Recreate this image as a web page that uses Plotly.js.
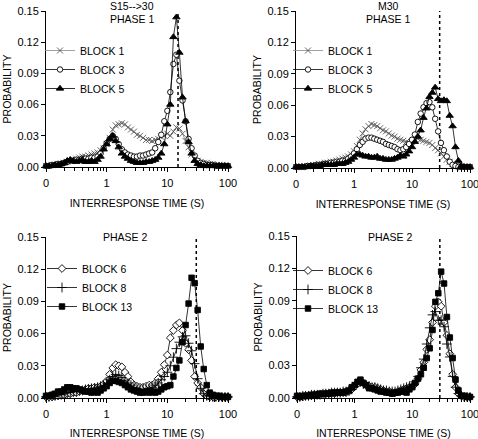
<!DOCTYPE html>
<html><head><meta charset="utf-8">
<script src="https://cdn.plot.ly/plotly-3.0.1.min.js"></script>
<style>html,body{margin:0;padding:0;background:#fff;}#chart{width:478px;height:439px;}</style>
</head><body><div id="chart"></div>
<script>
// Interresponse-time bins (s), 20 per decade from 0.1 to 100
const irtBins = [0.100,0.112,0.126,0.141,0.158,0.178,0.200,0.224,0.251,0.282,
  0.316,0.355,0.398,0.447,0.501,0.562,0.631,0.708,0.794,0.891,
  1.00,1.12,1.26,1.41,1.58,1.78,2.00,2.24,2.51,2.82,
  3.16,3.55,3.98,4.47,5.01,5.62,6.31,7.08,7.94,8.91,
  10.0,11.2,12.6,14.1,15.8,17.8,20.0,22.4,25.1,28.2,
  31.6,35.5,39.8,44.7,50.1,56.2,63.1,70.8,79.4,89.1,100];

// Panel 1: S15-->30, Phase 1
const s15_block1 = [0.001,0.001,0.002,0.002,0.003,0.003,0.004,0.005,0.006,0.007,
  0.008,0.009,0.010,0.010,0.011,0.012,0.013,0.014,0.016,0.018,
  0.022,0.028,0.036,0.040,0.041,0.042,0.041,0.038,0.036,0.034,
  0.031,0.030,0.028,0.026,0.026,0.025,0.026,0.027,0.029,0.030,
  0.032,0.030,0.034,0.038,0.037,0.032,0.025,0.019,0.012,0.008,
  0.006,0.005,0.004,0.004,0.003,0.003,0.002,0.002,0.002,0.001,0.001];
const s15_block3 = [0.001,0.001,0.002,0.002,0.003,0.003,0.004,0.005,0.006,0.006,
  0.007,0.007,0.008,0.008,0.008,0.009,0.009,0.010,0.013,0.018,
  0.023,0.027,0.030,0.027,0.022,0.017,0.014,0.012,0.011,0.010,
  0.010,0.011,0.011,0.012,0.013,0.014,0.018,0.024,0.031,0.044,
  0.054,0.072,0.099,0.108,0.083,0.064,0.044,0.027,0.018,0.011,
  0.006,0.004,0.003,0.002,0.002,0.002,0.001,0.001,0.001,0.001,0.001];
const s15_block5 = [0.001,0.001,0.001,0.002,0.002,0.003,0.004,0.006,0.007,0.006,
  0.005,0.006,0.007,0.005,0.005,0.006,0.005,0.007,0.010,0.017,
  0.022,0.027,0.030,0.025,0.019,0.013,0.010,0.008,0.006,0.005,
  0.004,0.004,0.004,0.005,0.005,0.006,0.007,0.009,0.013,0.022,
  0.041,0.060,0.125,0.144,0.110,0.067,0.044,0.024,0.013,0.006,
  0.003,0.002,0.001,0.001,0.001,0.001,0.001,0.001,0.001,0.001,0.001];

// Panel 2: M30, Phase 1
const m30_block1 = [0.001,0.001,0.001,0.002,0.002,0.002,0.003,0.003,0.004,0.004,
  0.005,0.005,0.006,0.006,0.007,0.008,0.009,0.010,0.011,0.013,
  0.016,0.021,0.027,0.033,0.037,0.040,0.042,0.041,0.040,0.038,
  0.036,0.035,0.033,0.031,0.030,0.028,0.027,0.026,0.025,0.024,
  0.025,0.027,0.028,0.027,0.026,0.025,0.024,0.022,0.019,0.017,
  0.014,0.011,0.008,0.006,0.004,0.003,0.002,0.002,0.001,0.001,0.001];
const m30_block3 = [0.001,0.001,0.001,0.001,0.002,0.002,0.002,0.003,0.003,0.003,
  0.004,0.004,0.005,0.005,0.006,0.006,0.007,0.007,0.009,0.011,
  0.014,0.018,0.022,0.025,0.028,0.029,0.029,0.028,0.027,0.026,
  0.025,0.023,0.022,0.021,0.020,0.018,0.017,0.018,0.020,0.023,
  0.027,0.032,0.044,0.052,0.058,0.062,0.063,0.058,0.047,0.035,
  0.024,0.017,0.011,0.006,0.003,0.002,0.001,0.001,0.001,0.001,0.001];
const m30_block5 = [0.001,0.001,0.001,0.001,0.001,0.002,0.002,0.002,0.002,0.003,
  0.003,0.003,0.003,0.003,0.004,0.004,0.004,0.005,0.006,0.008,
  0.010,0.013,0.013,0.012,0.011,0.011,0.010,0.010,0.011,0.009,
  0.009,0.008,0.008,0.008,0.009,0.010,0.012,0.011,0.013,0.016,
  0.020,0.025,0.030,0.036,0.048,0.057,0.068,0.072,0.077,0.066,
  0.064,0.065,0.064,0.050,0.040,0.020,0.007,0.002,0.001,0.001,0.001];

// Panel 3: S15-->30, Phase 2
const s15_block6 = [0.001,0.001,0.001,0.002,0.002,0.003,0.003,0.004,0.004,0.005,
  0.005,0.006,0.007,0.008,0.009,0.009,0.010,0.010,0.011,0.013,
  0.016,0.022,0.028,0.031,0.030,0.029,0.024,0.020,0.015,0.012,
  0.011,0.010,0.010,0.011,0.012,0.012,0.014,0.018,0.024,0.031,
  0.040,0.056,0.063,0.068,0.070,0.063,0.051,0.045,0.035,0.020,
  0.014,0.010,0.004,0.002,0.001,0.001,0.001,0.001,0.001,0.001,0.001];
const s15_block8 = [0.001,0.001,0.002,0.002,0.003,0.003,0.004,0.005,0.005,0.006,
  0.006,0.007,0.007,0.008,0.008,0.009,0.009,0.010,0.011,0.012,
  0.014,0.017,0.020,0.022,0.021,0.019,0.016,0.014,0.012,0.010,
  0.009,0.008,0.008,0.008,0.009,0.010,0.012,0.014,0.017,0.020,
  0.024,0.030,0.038,0.046,0.052,0.057,0.058,0.051,0.044,0.032,
  0.018,0.009,0.004,0.002,0.002,0.001,0.001,0.001,0.001,0.001,0.001];
const s15_block13 = [0.002,0.002,0.003,0.004,0.006,0.006,0.008,0.010,0.010,0.009,
  0.009,0.008,0.007,0.006,0.006,0.005,0.006,0.005,0.007,0.009,
  0.011,0.014,0.016,0.016,0.015,0.014,0.012,0.010,0.008,0.007,
  0.006,0.005,0.005,0.006,0.005,0.006,0.005,0.006,0.008,0.010,
  0.011,0.012,0.020,0.028,0.035,0.052,0.068,0.088,0.112,0.107,
  0.082,0.048,0.027,0.012,0.005,0.003,0.002,0.002,0.001,0.001,0.001];

// Panel 4: M30, Phase 2
const m30_block6 = [0.001,0.001,0.001,0.002,0.002,0.002,0.003,0.003,0.003,0.003,
  0.004,0.004,0.004,0.004,0.005,0.005,0.005,0.005,0.006,0.008,
  0.011,0.013,0.015,0.014,0.012,0.011,0.010,0.010,0.009,0.008,
  0.007,0.006,0.006,0.005,0.005,0.006,0.007,0.008,0.009,0.010,
  0.011,0.013,0.018,0.026,0.033,0.045,0.054,0.070,0.085,0.089,
  0.085,0.070,0.058,0.041,0.022,0.010,0.004,0.002,0.001,0.001,0.001];
const m30_block8 = [0.001,0.001,0.002,0.002,0.002,0.003,0.003,0.003,0.003,0.004,
  0.004,0.004,0.005,0.005,0.005,0.005,0.006,0.006,0.007,0.008,
  0.011,0.014,0.015,0.013,0.012,0.011,0.010,0.010,0.009,0.008,
  0.007,0.007,0.006,0.006,0.006,0.007,0.008,0.009,0.010,0.011,
  0.012,0.015,0.020,0.028,0.036,0.050,0.065,0.077,0.080,0.072,
  0.072,0.066,0.050,0.038,0.020,0.010,0.004,0.002,0.001,0.001,0.001];
const m30_block13 = [0.002,0.001,0.002,0.002,0.002,0.003,0.003,0.003,0.004,0.004,
  0.004,0.004,0.005,0.005,0.005,0.005,0.005,0.006,0.007,0.010,
  0.012,0.015,0.017,0.014,0.012,0.009,0.009,0.008,0.007,0.006,
  0.006,0.005,0.005,0.004,0.005,0.005,0.006,0.006,0.005,0.008,
  0.010,0.014,0.018,0.022,0.028,0.037,0.046,0.063,0.089,0.097,
  0.117,0.106,0.075,0.056,0.037,0.017,0.007,0.002,0.002,0.001,0.001];

// Schedule criterion (s) marked by the dotted line in each panel
const criterion = [15, 30, 30, 30];
const yLimits = [0, 0.15];
const xTickVals = [0.1, 1, 10, 100];
const xTickText = ['0', '1', '10', '100'];
const minorTicks = [0.2,0.3,0.4,0.5,0.6,0.7,0.8,0.9,2,3,4,5,6,7,8,9,20,30,40,50,60,70,80,90];
const panelTitles = [['S15-->30','PHASE 1'], ['M30','PHASE 1'], ['PHASE 2'], ['PHASE 2']];

const FONT = 'Liberation Sans, Arial, Helvetica, sans-serif';
const styles = {
  b1:  {symbol:'x-thin-open', size:6, mline:'#555', fill:'#555', line:'#888', lw:0.8},
  b3:  {symbol:'circle', size:5.5, mline:'#000', fill:'#fff', line:'#000', lw:0.8},
  b5:  {symbol:'triangle-up', size:6.5, mline:'#000', fill:'#000', line:'#000', lw:0.8},
  b6:  {symbol:'diamond', size:6, mline:'#000', fill:'#fff', line:'#000', lw:0.8},
  b8:  {symbol:'cross-thin-open', size:7, mline:'#000', fill:'#000', line:'#000', lw:0.8},
  b13: {symbol:'square', size:5.5, mline:'#000', fill:'#000', line:'#000', lw:0.8}
};
function series(name, y, st, ax, leg) {
  return {type:'scatter', mode:'lines+markers', name:name, x:irtBins, y:y,
    xaxis:'x'+ax, yaxis:'y'+ax, legend:leg, cliponaxis:false,
    line:{color:st.line, width:st.lw},
    marker:{symbol:st.symbol, size:st.size, color:st.fill, line:{color:st.mline, width:0.9}}};
}
function critLine(ax, c) {
  return {type:'scatter', mode:'lines', x:[c, c], y:yLimits, xaxis:'x'+ax, yaxis:'y'+ax,
    showlegend:false, hoverinfo:'skip', line:{color:'#000', width:1.5, dash:'dot'}};
}
const traces = [
  critLine('', criterion[0]),
  series('BLOCK 1', s15_block1, styles.b1, '', 'legend'),
  series('BLOCK 3', s15_block3, styles.b3, '', 'legend'),
  series('BLOCK 5', s15_block5, styles.b5, '', 'legend'),
  critLine('2', criterion[1]),
  series('BLOCK 1', m30_block1, styles.b1, '2', 'legend2'),
  series('BLOCK 3', m30_block3, styles.b3, '2', 'legend2'),
  series('BLOCK 5', m30_block5, styles.b5, '2', 'legend2'),
  critLine('3', criterion[2]),
  series('BLOCK 6', s15_block6, styles.b6, '3', 'legend3'),
  series('BLOCK 8', s15_block8, styles.b8, '3', 'legend3'),
  series('BLOCK 13', s15_block13, styles.b13, '3', 'legend3'),
  critLine('4', criterion[3]),
  series('BLOCK 6', m30_block6, styles.b6, '4', 'legend4'),
  series('BLOCK 8', m30_block8, styles.b8, '4', 'legend4'),
  series('BLOCK 13', m30_block13, styles.b13, '4', 'legend4')
];

const W = 478, H = 439;
function px(x){return x/W;}
function py(y){return 1 - y/H;}
function xAxis(l, r, anchor, so) {
  return {type:'log', range:[-1, 2], domain:[px(l), px(r)], anchor:anchor,
    tickmode:'array', tickvals:xTickVals, ticktext:xTickText,
    ticks:'outside', ticklen:4, tickcolor:'#000', tickwidth:1,
    ticklabeloverflow:'allow', ticklabelstandoff:2,
    showline:true, linecolor:'#000', linewidth:1, showgrid:false, zeroline:false,
    tickfont:{size:11, color:'#000'},
    minor:{tickmode:'array', tickvals:minorTicks, ticks:'outside', ticklen:3, tickcolor:'#000', showgrid:false},
    title:{text:'INTERRESPONSE TIME (S)', font:{size:10.5, color:'#000'}, standoff:so}};
}
function yAxis(b, t, anchor) {
  return {range:yLimits, domain:[py(b), py(t)], anchor:anchor,
    tickmode:'linear', tick0:0, dtick:0.03, tickformat:'.2f',
    ticks:'outside', ticklen:4, tickcolor:'#000', tickwidth:1,
    ticklabeloverflow:'allow',
    showline:true, linecolor:'#000', linewidth:1, showgrid:false, zeroline:false,
    tickfont:{size:11, color:'#000'},
    title:{text:'PROBABILITY', font:{size:10.5, color:'#000'}, standoff:3}};
}
function legendAt(x, y) {
  return {x:px(x), y:py(y), xanchor:'left', yanchor:'top', bgcolor:'rgba(0,0,0,0)',
    borderwidth:0, font:{size:10.5, color:'#000'}, itemwidth:30, tracegroupgap:0};
}
const annPos = [[132, [6, 19]], [388, [6, 19]], [125, [237]], [390, [237]]];
const annotations = [];
panelTitles.forEach((lines, k) => {
  lines.forEach((t, j) => {
    annotations.push({text:t, xref:'paper', yref:'paper', x:px(annPos[k][0]), y:py(annPos[k][1][j]),
      xanchor:'center', yanchor:'middle', showarrow:false, font:{size:10.5, color:'#000'}});
  });
});

const layout = {
  width:W, height:H, margin:{l:0, r:0, t:0, b:0},
  paper_bgcolor:'#fff', plot_bgcolor:'rgba(0,0,0,0)',
  font:{family:FONT, color:'#000', size:11},
  xaxis:xAxis(46, 228, 'y', 11), yaxis:yAxis(167, 11, 'x'),
  xaxis2:xAxis(296, 470, 'y2', 11), yaxis2:yAxis(168, 11, 'x2'),
  xaxis3:xAxis(46, 228, 'y3', 11), yaxis3:yAxis(398, 237, 'x3'),
  xaxis4:xAxis(297, 470, 'y4', 11), yaxis4:yAxis(398, 236, 'x4'),
  legend:legendAt(40, 36), legend2:legendAt(288, 36),
  legend3:legendAt(42, 254), legend4:legendAt(288, 256),
  annotations:annotations, showlegend:true
};
Plotly.newPlot('chart', traces, layout, {staticPlot:true, displayModeBar:false});
</script></body></html>
